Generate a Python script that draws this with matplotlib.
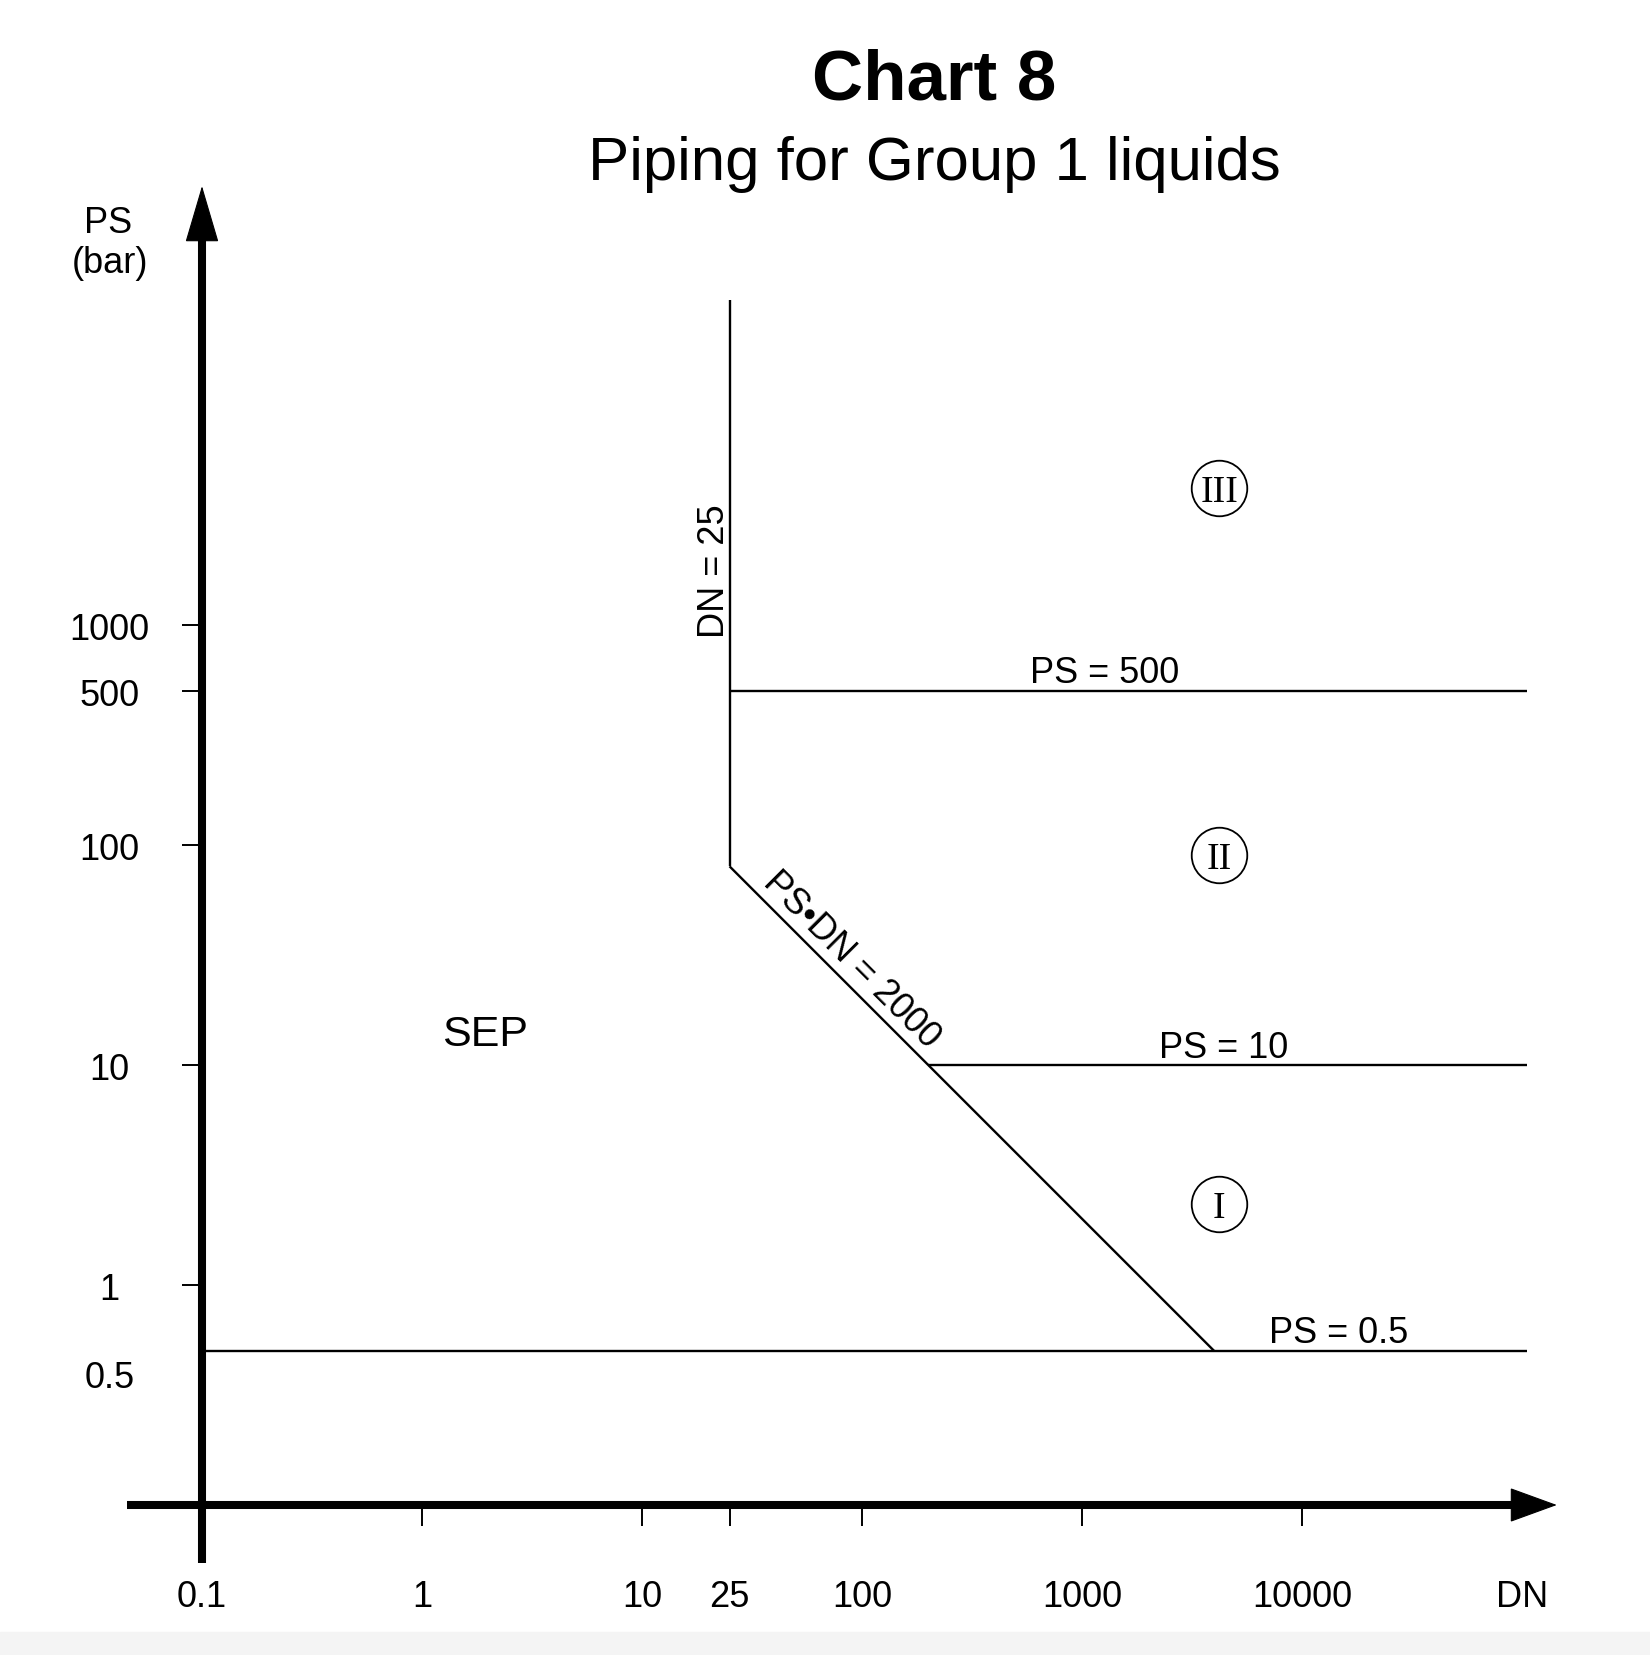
import matplotlib.pyplot as plt

plt.rcParams['font.family'] = ['Liberation Sans', 'DejaVu Sans']

# Boundary lines of the chart, (DN, PS) pairs
dn25_dn = [25, 25]
dn25_ps = [80, 30000]
psdn_dn = [25, 4000]        # PS*DN = 2000
psdn_ps = [80, 0.5]
ps500_dn = [25, 1.05e5]
ps500_ps = [500, 500]
ps10_dn = [200, 1.05e5]
ps10_ps = [10, 10]
ps05_dn = [0.1, 1.05e5]
ps05_ps = [0.5, 0.5]

# ticks
x_ticks = [0.1, 1, 10, 25, 100, 1000, 10000, 1e5]
x_labels = ['0.1', '1', '10', '25', '100', '1000', '10000', 'DN']
y_ticks = [1, 10, 100, 500, 1000]
y_labels = ['1', '10', '100', '500', '1000']

# categories (circled roman numerals)
cats = ['I', 'II', 'III']
cat_dn = [4200, 4200, 4200]
cat_ps = [2.33, 90, 4200]

W, H = 1650, 1656
fig = plt.figure(figsize=(W / 100, H / 100), dpi=100)

# origin (0.1, 0.1) sits at pixel (202, 1506), 220 px per decade both ways
dec = 220
ox, oy = 202, 1506
ax = fig.add_axes([ox / W, (H - oy) / H, 6 * dec / W, 6 * dec / H])
ax.set_xscale('log')
ax.set_yscale('log')
ax.set_xlim(0.1, 1e5)
ax.set_ylim(0.1, 1e5)
for s in ax.spines.values():
    s.set_visible(False)
ax.patch.set_visible(False)

# screenshot band at the bottom
fig.add_artist(plt.Rectangle((0, 0), 1, 23 / H, transform=fig.transFigure,
                             color='#f4f4f4', zorder=0))

# the chart lines
lw = 1.7
for xs, ys in [(dn25_dn, dn25_ps), (psdn_dn, psdn_ps), (ps500_dn, ps500_ps),
               (ps10_dn, ps10_ps), (ps05_dn, ps05_ps)]:
    ax.plot(xs, ys, color='black', lw=lw, clip_on=False, solid_capstyle='butt')

# axis lines with arrow heads
ax.plot([0.0456, 1e5], [0.1, 0.1], color='black', lw=5.8, clip_on=False,
        solid_capstyle='butt', zorder=3)
ax.plot([0.1, 0.1], [0.0545, 6.5e4], color='black', lw=5.8, clip_on=False,
        solid_capstyle='butt', zorder=3)
ax.annotate('', xy=(1.44e5, 0.1), xytext=(1, 0.1), annotation_clip=False,
            arrowprops=dict(arrowstyle='-|>,head_length=1.58,head_width=0.575',
                            mutation_scale=20, lw=0.8, color='black',
                            joinstyle='miter', shrinkA=0, shrinkB=0))
ax.annotate('', xy=(0.1, 9.9e4), xytext=(0.1, 1), annotation_clip=False,
            arrowprops=dict(arrowstyle='-|>,head_length=1.9,head_width=0.56',
                            mutation_scale=20, lw=0.8, color='black',
                            joinstyle='miter', shrinkA=0, shrinkB=0))

# ticks
ax.minorticks_off()
ax.set_xticks(x_ticks, x_labels)
ax.set_yticks(y_ticks, y_labels)
ax.tick_params(axis='x', direction='out', length=15, width=1.4, pad=38, labelsize=26)
ax.tick_params(axis='y', direction='out', length=14.4, width=1.4, pad=52, labelsize=26)
for t in ax.get_yticklabels():
    t.set_ha('center')
ax.xaxis.get_major_ticks()[-1].tick1line.set_visible(False)
ax.annotate('0.5', xy=(0.1, 0.5), xytext=(-92, -22), textcoords='offset pixels',
            ha='center', va='center_baseline', fontsize=26, annotation_clip=False)

# line labels
ax.annotate('PS = 500', xy=(1270, 500), xytext=(0, 6.5), textcoords='offset points',
            ha='center', va='baseline', fontsize=26)
ax.annotate('PS = 10', xy=(4420, 10), xytext=(0, 6), textcoords='offset points',
            ha='center', va='baseline', fontsize=26)
ax.annotate('PS = 0.5', xy=(14700, 0.5), xytext=(0, 6.5), textcoords='offset points',
            ha='center', va='baseline', fontsize=26)
ax.annotate('DN = 25', xy=(25, 1780), xytext=(-4.3, 0), textcoords='offset points',
            rotation=90, rotation_mode='anchor', ha='center', va='baseline', fontsize=26)
ax.annotate('PS\u2022DN = 2000', xy=(77, 26), xytext=(5.6, 5.6), textcoords='offset points',
            rotation=-45, rotation_mode='anchor', ha='center', va='baseline', fontsize=26)
ax.text(1.93, 13.8, 'SEP', fontsize=31, ha='center', va='center')

# circled categories
ax.plot(cat_dn, cat_ps, 'o', ms=40, mfc='none', mec='black', mew=1.3, clip_on=False)
for c, x, y in zip(cats, cat_dn, cat_ps):
    ax.text(x, y, c, family='Liberation Serif', fontsize=27, ha='center',
            va='center_baseline')

# titles and axis name
fig.text(934 / W, 1 - 99 / H, 'Chart 8', ha='center', va='baseline',
         fontsize=51, fontweight='bold')
fig.text(934 / W, 1 - 180 / H, 'Piping for Group 1 liquids', ha='center',
         va='baseline', fontsize=44.5)
fig.text(108 / W, 1 - 233 / H, 'PS', ha='center', va='baseline', fontsize=26)
fig.text(110 / W, 1 - 273 / H, '(bar)', ha='center', va='baseline', fontsize=26)

fig.savefig('out.png', dpi=100)
